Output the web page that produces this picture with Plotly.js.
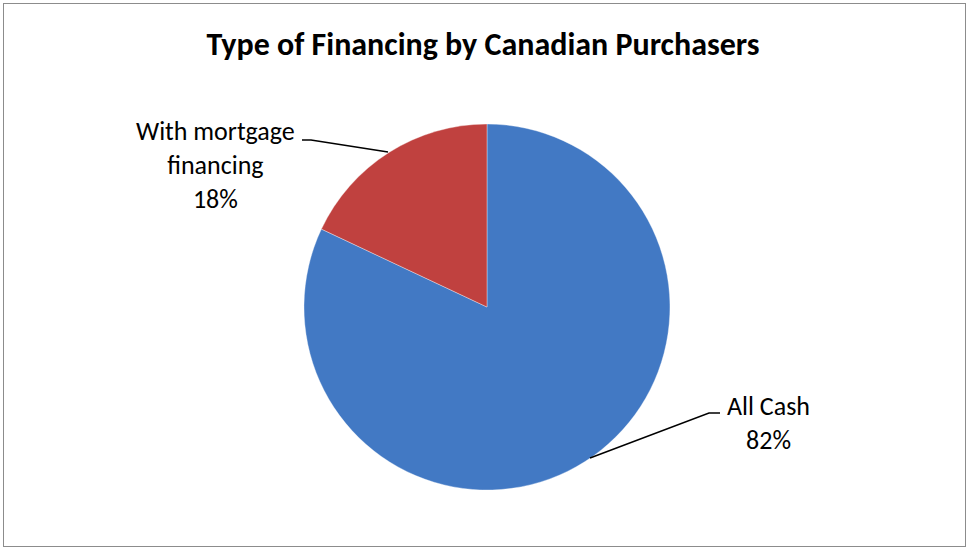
<!DOCTYPE html>
<html>
<head>
<meta charset="utf-8">
<script src="https://cdn.plot.ly/plotly-3.0.1.min.js"></script>
<style>
html,body{margin:0;padding:0;background:#fff;}
#frame{position:absolute;left:3px;top:3px;width:961px;height:542px;border:1px solid #8c8c8c;}
#chart{position:absolute;left:0;top:0;width:969px;height:550px;}
</style>
</head>
<body>
<div id="frame"></div>
<div id="chart"></div>
<script>
const categories = ["All Cash", "With mortgage financing"];
const labelLines = [["All Cash"], ["With mortgage", "financing"]];
const values = [82, 18];
const colors = ["#4279c4", "#c0413f"];

const total = values.reduce((a, b) => a + b, 0);
const pct = values.map(v => Math.round(100 * v / total) + "%");

const font = "Calibri, Carlito, 'Open Sans', 'Liberation Sans', sans-serif";

const trace = {
  type: "pie",
  labels: categories,
  values: values,
  sort: false,
  direction: "clockwise",
  rotation: 0,
  textinfo: "none",
  hoverinfo: "label+percent",
  marker: {colors: colors, line: {color: "rgba(255,255,255,0.35)", width: 1}},
  domain: {x: [0.3137, 0.6914], y: [0.109, 0.7745]},
  showlegend: false
};

const layout = {
  width: 969, height: 550,
  margin: {l: 0, r: 0, t: 0, b: 0},
  paper_bgcolor: "rgba(0,0,0,0)",
  plot_bgcolor: "rgba(0,0,0,0)",
  title: {text: "<b>Type of Financing by Canadian Purchasers</b>", x: 0.4985, xanchor: "center", y: 1 - 44/550, yanchor: "middle",
          font: {family: font, size: 32, color: "#000"}},
  annotations: [
    {xref: "paper", yref: "paper", x: 768/969, y: 1 - 423/550, xanchor: "center", yanchor: "middle", showarrow: false,
     text: labelLines[0].join("<br>") + "<br>" + pct[0], font: {family: font, size: 26, color: "#000"}},
    {xref: "paper", yref: "paper", x: 215/969, y: 1 - 165/550, xanchor: "center", yanchor: "middle", showarrow: false,
     text: labelLines[1].join("<br>") + "<br>" + pct[1], font: {family: font, size: 26, color: "#000"}}
  ],
  shapes: [
    {type: "path", xref: "paper", yref: "paper", line: {color: "#000", width: 1.5},
     path: `M ${302/969} ${1-140/550} L ${311/969} ${1-140/550} L ${388/969} ${1-152/550}`},
    {type: "path", xref: "paper", yref: "paper", line: {color: "#000", width: 1.5},
     path: `M ${590/969} ${1-458/550} L ${709/969} ${1-413/550} L ${720/969} ${1-413/550}`}
  ]
};

Plotly.newPlot("chart", [trace], layout, {displayModeBar: false, staticPlot: true});
</script>
</body>
</html>
